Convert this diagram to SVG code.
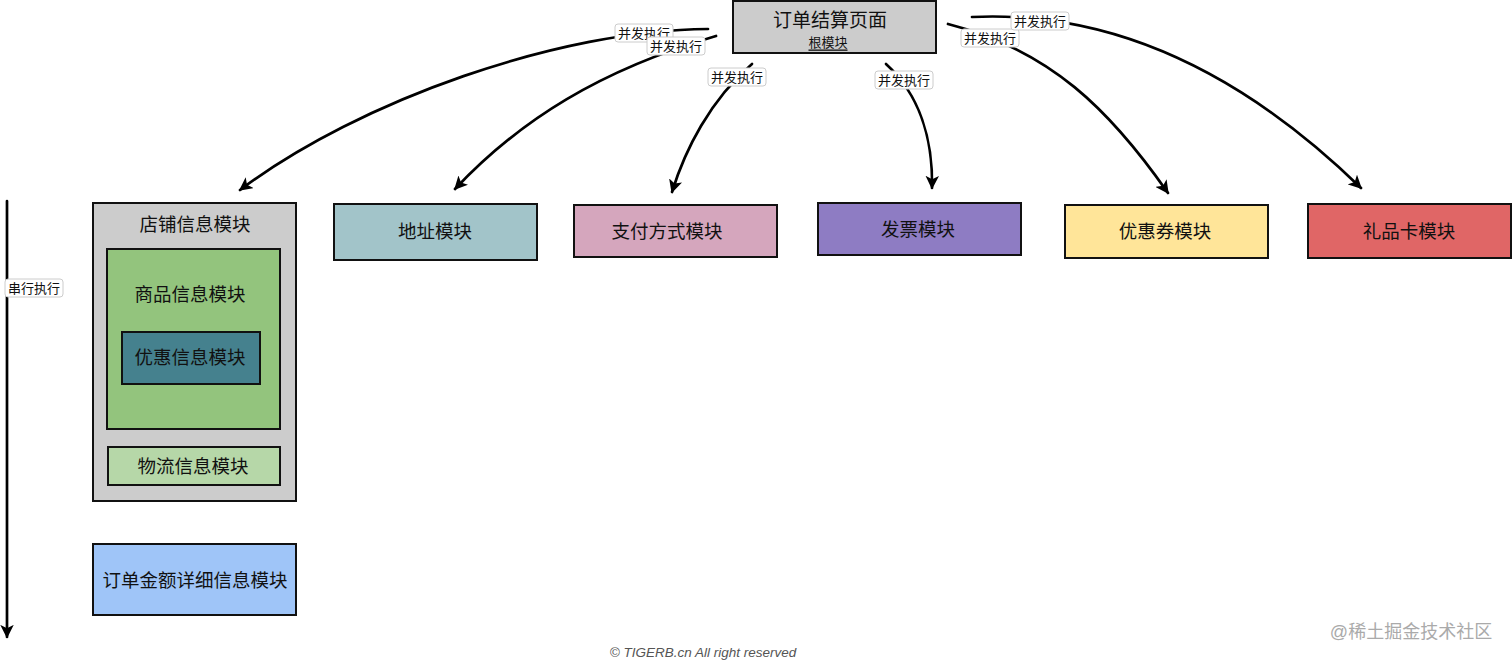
<svg xmlns="http://www.w3.org/2000/svg" width="1512" height="661" viewBox="0 0 1512 661">
<defs>
<style>
.t{font-family:"Liberation Sans","Noto Sans CJK SC",sans-serif;fill:#111;text-anchor:middle;dominant-baseline:central;font-size:18.5px}
.n{stroke:#111;stroke-width:2}
.c{fill:none;stroke:#000;stroke-width:2.7;stroke-linecap:round}
.lb{fill:#fff;stroke:#ccc;stroke-width:1}
.lt{font-family:"Liberation Sans","Noto Sans CJK SC",sans-serif;font-size:13px;fill:#111;text-anchor:middle;dominant-baseline:central}
</style>
<marker id="ah" viewBox="0 0 10 10" refX="9" refY="5" markerWidth="5" markerHeight="5" orient="auto" markerUnits="strokeWidth">
<path d="M0,0 L10,5 L0,10 L2.5,5 Z" fill="#000"/>
</marker>
</defs>
<rect width="1512" height="661" fill="#fff"/>

<g id="connectors">
<path class="c" d="M708,29 C560,30 360,100 240,190" marker-end="url(#ah)"/>
<path class="c" d="M716,36 C600,70 520,120 455,189" marker-end="url(#ah)"/>
<path class="c" d="M752,64 C710,100 685,150 672,192" marker-end="url(#ah)"/>
<path class="c" d="M886,64 C920,95 933,140 932,188" marker-end="url(#ah)"/>
<path class="c" d="M948,24 C1050,50 1110,110 1168,193" marker-end="url(#ah)"/>
<path class="c" d="M972,17 C1120,10 1250,80 1361,188" marker-end="url(#ah)"/>
<path class="c" d="M7,201 L7,637" marker-end="url(#ah)"/>
<g id="labels">
<rect class="lb" x="615" y="24" width="58" height="18" rx="3"/><text class="lt" x="644" y="33.5">并发执行</text>
<rect class="lb" x="647" y="37" width="58" height="18" rx="3"/><text class="lt" x="676" y="46.5">并发执行</text>
<rect class="lb" x="708" y="68" width="58" height="18" rx="3"/><text class="lt" x="737" y="77.5">并发执行</text>
<rect class="lb" x="875" y="71" width="58" height="18" rx="3"/><text class="lt" x="904" y="80.5">并发执行</text>
<rect class="lb" x="961" y="29" width="58" height="18" rx="3"/><text class="lt" x="990" y="38.5">并发执行</text>
<rect class="lb" x="1011" y="12" width="58" height="18" rx="3"/><text class="lt" x="1040" y="21.5">并发执行</text>
<rect class="lb" x="5" y="279" width="58" height="18" rx="3"/><text class="lt" x="34" y="288.5">串行执行</text>
</g>
</g>

<g id="root">
<rect class="n" x="733" y="1" width="203" height="52" fill="#cccccc"/>
<text class="t" x="830" y="20" style="font-size:19px">订单结算页面</text>
<text class="t" x="828" y="42" style="font-size:13px" text-decoration="underline">根模块</text>
</g>

<g id="shop">
<rect class="n" x="93" y="203" width="203" height="298" fill="#cccccc"/>
<text class="t" x="195" y="224">店铺信息模块</text>
</g>
<g id="goods">
<rect class="n" x="107" y="249" width="173" height="180" fill="#93c47d"/>
<text class="t" x="190" y="294">商品信息模块</text>
</g>
<g id="discount">
<rect class="n" x="122" y="332" width="138" height="52" fill="#45818e"/>
<text class="t" x="190" y="357">优惠信息模块</text>
</g>
<g id="logistics">
<rect class="n" x="108" y="447" width="172" height="38" fill="#b6d7a8"/>
<text class="t" x="193" y="466">物流信息模块</text>
</g>
<g id="amount">
<rect class="n" x="93" y="544" width="203" height="71" fill="#9fc5f8"/>
<text class="t" x="195" y="580">订单金额详细信息模块</text>
</g>
<g id="address">
<rect class="n" x="334" y="204" width="203" height="56" fill="#a2c4c9"/>
<text class="t" x="435" y="231">地址模块</text>
</g>
<g id="payment">
<rect class="n" x="574" y="205" width="203" height="52" fill="#d5a6bd"/>
<text class="t" x="667" y="231">支付方式模块</text>
</g>
<g id="invoice">
<rect class="n" x="818" y="203" width="203" height="52" fill="#8e7cc3"/>
<text class="t" x="918" y="229">发票模块</text>
</g>
<g id="coupon">
<rect class="n" x="1065" y="205" width="203" height="53" fill="#ffe599"/>
<text class="t" x="1165" y="231">优惠券模块</text>
</g>
<g id="giftcard">
<rect class="n" x="1308" y="204" width="203" height="54" fill="#e06666"/>
<text class="t" x="1409" y="231">礼品卡模块</text>
</g>

<text x="703" y="652" font-family="Liberation Sans, sans-serif" font-size="13.5" font-style="italic" fill="#555" text-anchor="middle" dominant-baseline="central">© TIGERB.cn All right reserved</text>
<text x="1411" y="632" font-family="Liberation Sans, 'Noto Sans CJK SC', sans-serif" font-size="18" fill="#aaa" text-anchor="middle" dominant-baseline="central">@稀土掘金技术社区</text>
</svg>
